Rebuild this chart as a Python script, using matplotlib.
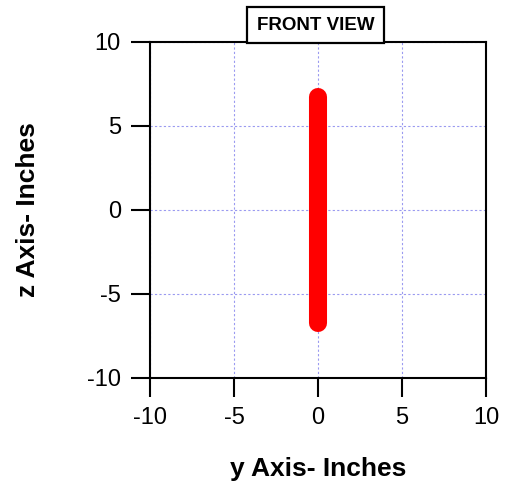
import matplotlib
matplotlib.use("Agg")
import matplotlib.pyplot as plt

# front view: y position vs z extent of the part
y_pts = [0.0, 0.0]
z_pts = [-6.75, 6.75]
ticks = [-10, -5, 0, 5, 10]

plt.rcParams['font.family'] = ['Liberation Sans', 'DejaVu Sans']
plt.rcParams['axes.unicode_minus'] = False

fig = plt.figure(figsize=(5.06, 4.83), dpi=100)
ax = fig.add_axes([0.2964, 0.2174, 0.664, 0.6957])

ax.plot(y_pts, z_pts, color='#ff0000', lw=13, solid_capstyle='round', zorder=3)

ax.set_xlim(-10, 10)
ax.set_ylim(-10, 10)
ax.set_xticks(ticks)
ax.set_yticks(ticks)
ax.grid(True, color='#9a9af0', linestyle=(0, (2, 2)), lw=0.8)
ax.tick_params(direction='out', length=14, width=1.5, labelsize=17, pad=7)
for s in ax.spines.values():
    s.set_linewidth(1.5)

ax.set_xlabel('y Axis- Inches', fontsize=19, fontweight='bold', labelpad=20)
ax.set_ylabel('z Axis- Inches', fontsize=19, fontweight='bold', labelpad=34)

fig.text(0.6235, 0.948, 'FRONT VIEW', fontsize=13.5, fontweight='bold',
         ha='center', va='center', zorder=10,
         bbox=dict(boxstyle='square,pad=0.5', fc='white', ec='black', lw=1.6))

fig.savefig('out.png', dpi=100)
